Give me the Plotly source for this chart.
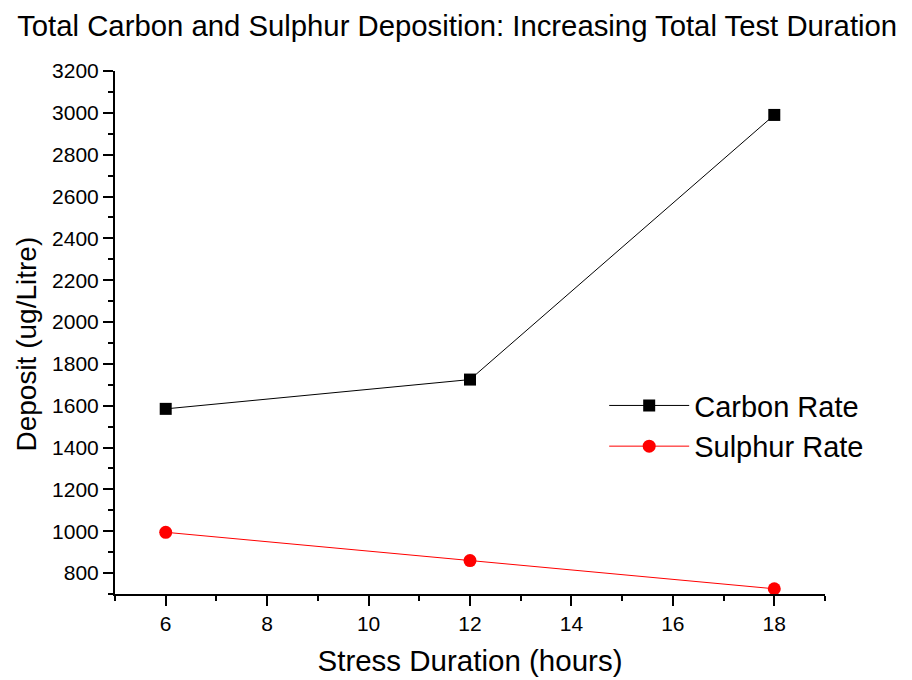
import plotly.graph_objects as go

hours = [6, 12, 18]
carbon = [1585, 1725, 2990]
sulphur = [995, 860, 725]

fig = go.Figure()
fig.add_trace(go.Scatter(x=hours, y=carbon, mode='lines+markers', name='Carbon Rate',
                         line=dict(color='black', width=1),
                         marker=dict(symbol='square', size=12, color='black')))
fig.add_trace(go.Scatter(x=hours, y=sulphur, mode='lines+markers', name='Sulphur Rate',
                         line=dict(color='red', width=1),
                         marker=dict(symbol='circle', size=13, color='red')))

# page body has an 8px margin, so margins are shifted to compensate
axis_style = dict(showline=True, linecolor='black', linewidth=2, ticks='outside',
                  tickwidth=2, ticklen=10, tickcolor='black', showgrid=False, zeroline=False,
                  tickfont=dict(size=21, color='black'))
fig.update_xaxes(range=[5, 19], dtick=2, tick0=0, **axis_style,
                 minor=dict(ticks='outside', ticklen=5, tickwidth=2, tickcolor='black', dtick=1),
                 title=dict(text='Stress Duration (hours)', font=dict(size=29.5, color='black'),
                            standoff=16))
fig.update_yaxes(range=[700, 3200], dtick=200, tick0=0, **axis_style,
                 minor=dict(ticks='outside', ticklen=5, tickwidth=2, tickcolor='black', dtick=100))

# y axis title sits a little below the plot centre in the original
fig.add_annotation(text='Deposit (ug/Litre)', textangle=-90, showarrow=False,
                   xref='paper', yref='paper', x=-0.126, y=0.478,
                   xanchor='center', yanchor='middle', borderpad=0,
                   font=dict(size=28, color='black'))

fig.update_layout(
    width=912, height=680,
    margin=dict(l=107, r=95, t=63, b=94),
    plot_bgcolor='white', paper_bgcolor='white',
    font=dict(family='Liberation Sans, Arial, sans-serif', color='black'),
    title=dict(text='Total Carbon and Sulphur Deposition: Increasing Total Test Duration',
               x=0.4925, xanchor='center', y=0.974, yanchor='middle',
               font=dict(size=29.3, color='black')),
    legend=dict(x=0.689, y=0.409, xanchor='left', yanchor='top',
                font=dict(size=29, color='black'), bgcolor='rgba(0,0,0,0)',
                itemwidth=80),
    showlegend=True,
)

fig.write_html("out.html")
